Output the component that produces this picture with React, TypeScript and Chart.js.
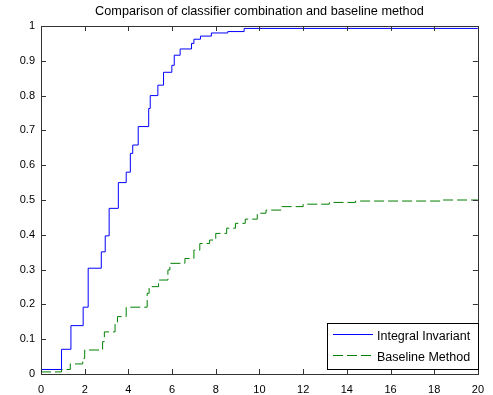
import React, { useEffect, useRef } from "react";
import { Chart, registerables } from "chart.js";

Chart.register(...registerables);

const TITLE = "Comparison of classifier combination and baseline method";
const SERIES_NAMES = ["Integral Invariant", "Baseline Method"];

// Blue: x where each step rises, and the new value
const integralX = [0, 0.94, 1.37, 1.93, 2.16, 2.76, 2.94, 3.12, 3.54, 3.9, 4.09, 4.2, 4.45, 4.93, 5.0, 5.35, 5.61, 5.99, 6.1, 6.37, 6.89, 7.0, 7.3, 7.8, 8.55, 9.3, 20];
const integralY = [0.013, 0.071, 0.139, 0.192, 0.304, 0.351, 0.397, 0.476, 0.55, 0.58, 0.634, 0.658, 0.711, 0.763, 0.8, 0.83, 0.867, 0.887, 0.916, 0.934, 0.95, 0.962, 0.971, 0.98, 0.984, 0.993, 0.993];

// Green: x where each step rises, and the new value
const baselineX = [0, 0.94, 1.34, 1.91, 2.0, 2.82, 2.9, 3.39, 3.5, 3.9, 4.86, 4.95, 5.38, 5.81, 5.9, 6.59, 7.0, 7.27, 7.72, 8.0, 8.5, 8.9, 9.35, 9.9, 10.3, 11.0, 12.0, 13.2, 14.4, 18.3, 20];
const baselineY = [0.006, 0.013, 0.029, 0.045, 0.069, 0.093, 0.121, 0.146, 0.165, 0.192, 0.232, 0.251, 0.27, 0.299, 0.318, 0.332, 0.356, 0.375, 0.385, 0.404, 0.419, 0.433, 0.445, 0.462, 0.471, 0.481, 0.488, 0.493, 0.497, 0.5, 0.5];

const X_MIN = 0, X_MAX = 20, X_STEP = 2;
const Y_MIN = 0, Y_MAX = 1, Y_STEP = 0.1;

const FONT = "'Liberation Sans', Arial, sans-serif";

const framePlugin = {
  id: "matlabFrame",
  afterDraw(chart: any) {
    const { ctx, chartArea: a, scales } = chart;
    ctx.save();
    // title
    ctx.fillStyle = "#000";
    ctx.font = `12.7px ${FONT}`;
    ctx.textAlign = "center";
    ctx.textBaseline = "middle";
    ctx.fillText(TITLE, (a.left + a.right) / 2, 11);
    // frame
    ctx.strokeStyle = "#333";
    ctx.lineWidth = 1;
    ctx.strokeRect(Math.round(a.left) + 0.5, Math.round(a.top) + 0.5, Math.round(a.right - a.left), Math.round(a.bottom - a.top));
    // inward ticks
    const tl = 5;
    ctx.beginPath();
    scales.x.ticks.forEach((t: any) => {
      const px = Math.round(scales.x.getPixelForValue(t.value)) + 0.5;
      ctx.moveTo(px, a.bottom);
      ctx.lineTo(px, a.bottom - tl);
      ctx.moveTo(px, a.top);
      ctx.lineTo(px, a.top + tl);
    });
    scales.y.ticks.forEach((t: any) => {
      const py = Math.round(scales.y.getPixelForValue(t.value)) + 0.5;
      ctx.moveTo(a.left, py);
      ctx.lineTo(a.left + tl, py);
      ctx.moveTo(a.right, py);
      ctx.lineTo(a.right - tl, py);
    });
    ctx.stroke();
    // legend
    const bx = 327, by = 323, bw = 151, bh = 46;
    ctx.fillStyle = "#fff";
    ctx.fillRect(bx, by, bw, bh);
    ctx.strokeStyle = "#000";
    ctx.strokeRect(bx + 0.5, by + 0.5, bw, bh);
    const rows = [334.5, 355.5];
    chart.data.datasets.forEach((ds: any, i: number) => {
      ctx.beginPath();
      ctx.strokeStyle = ds.borderColor;
      ctx.lineWidth = 1;
      ctx.setLineDash(ds.borderDash || []);
      ctx.moveTo(333, rows[i]);
      ctx.lineTo(373, rows[i]);
      ctx.stroke();
      ctx.setLineDash([]);
      ctx.fillStyle = "#000";
      ctx.font = `12.5px ${FONT}`;
      ctx.textAlign = "left";
      ctx.textBaseline = "middle";
      ctx.fillText(ds.label, 377, rows[i] + 2);
    });
    ctx.restore();
  },
};

const fmt = (v: any) => String(Number(Number(v).toFixed(1)));

export default function App() {
  const ref = useRef<HTMLCanvasElement>(null);
  useEffect(() => {
    document.body.style.margin = "0";
    const toPts = (xs: number[], ys: number[]) => xs.map((x, i) => ({ x, y: ys[i] }));
    const chart = new Chart(ref.current!, {
      type: "line",
      data: {
        datasets: [
          {
            label: SERIES_NAMES[0],
            data: toPts(integralX, integralY),
            borderColor: "#0000ff",
            borderWidth: 1,
            pointRadius: 0,
            stepped: "before",
            fill: false,
          },
          {
            label: SERIES_NAMES[1],
            data: toPts(baselineX, baselineY),
            borderColor: "#008000",
            borderWidth: 1,
            borderDash: [10, 4],
            pointRadius: 0,
            stepped: "before",
            fill: false,
          },
        ],
      },
      options: {
        responsive: false,
        animation: false,
        layout: { padding: { top: 26, right: 10, left: 0, bottom: 0 } },
        plugins: { legend: { display: false }, title: { display: false }, tooltip: { enabled: false } },
        scales: {
          x: {
            type: "linear",
            min: X_MIN,
            max: X_MAX,
            ticks: { stepSize: X_STEP, color: "#000", font: { family: FONT, size: 11 }, padding: 9, maxRotation: 0, callback: fmt },
            grid: { drawOnChartArea: false, drawTicks: false },
            border: { display: false },
            afterFit: (s: any) => { s.height = 21; },
          },
          y: {
            type: "linear",
            min: Y_MIN,
            max: Y_MAX,
            ticks: { stepSize: Y_STEP, color: "#000", font: { family: FONT, size: 11 }, padding: 6, callback: fmt },
            grid: { drawOnChartArea: false, drawTicks: false },
            border: { display: false },
            afterFit: (s: any) => { s.width = 41; },
          },
        },
      },
      plugins: [framePlugin],
    });
    return () => chart.destroy();
  }, []);
  return (
    <div style={{ width: 493, height: 395, background: "#fff" }}>
      <canvas ref={ref} width={493} height={395} />
    </div>
  );
}
